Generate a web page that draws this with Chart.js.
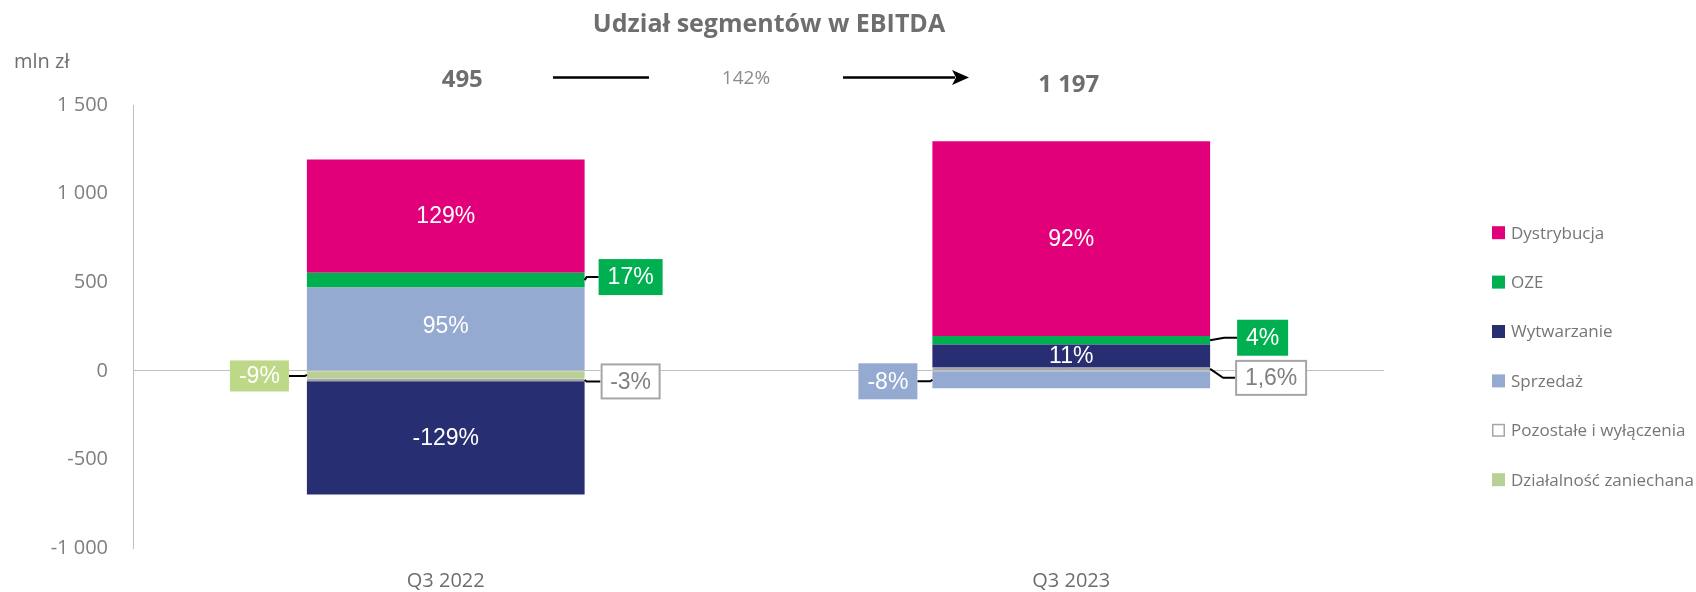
<!DOCTYPE html>
<html>
<head>
<meta charset="utf-8">
<script src="https://cdn.jsdelivr.net/npm/chart.js@4.4.1/dist/chart.umd.min.js"></script>
<style>
html,body{margin:0;padding:0;background:#ffffff;}
#wrap{width:1696px;height:592px;position:relative;}
</style>
</head>
<body>
<div id="wrap"><canvas id="c" width="1696" height="592"></canvas></div>
<script>
// ---------- DATA ----------
const categories = ['Q3 2022', 'Q3 2023'];
const dystrybucja = [639, 1100];
const oze = [84, 47];
const wytwarzanie = [-639, 130];
const sprzedaz = [470, -99];
const pozostale = [-15, 19];
const dzialalnosc = [-44, null];

const dystrybucjaPct = ['129%', '92%'];
const ozePct = ['17%', '4%'];
const wytwarzaniePct = ['-129%', '11%'];
const sprzedazPct = ['95%', '-8%'];
const pozostalePct = ['-3%', '1,6%'];
const dzialalnoscPct = ['-9%', ''];

const totals = ['495', '1 197'];
const growth = '142%';
const titleText = 'Udział segmentów w EBITDA';
const unitText = 'mln zł';
const yMin = -1000, yMax = 1500, yStep = 500;

// legend order (as in the reference)
const legendOrder = ['Dystrybucja', 'OZE', 'Wytwarzanie', 'Sprzedaż', 'Pozostałe i wyłączenia', 'Działalność zaniechana'];

// ---------- STYLE ----------
const GRAY_TXT = '#6E6E6E';
const colors = {
  'Dystrybucja': {fill: '#E2007A', border: '#E2007A', box: '#E2007A', text: '#FFFFFF'},
  'OZE': {fill: '#00B050', border: '#00B050', box: '#00B050', text: '#FFFFFF'},
  'Wytwarzanie': {fill: '#282E72', border: '#282E72', box: '#282E72', text: '#FFFFFF'},
  'Sprzedaż': {fill: '#95AAD0', border: '#95AAD0', box: '#95AAD0', text: '#FFFFFF'},
  'Pozostałe i wyłączenia': {fill: '#FFFFFF', border: '#A6A6A6', box: '#FFFFFF', text: '#808080', boxBorder: '#A6A6A6'},
  'Działalność zaniechana': {fill: '#B8D095', border: '#B8D095', box: '#BDD886', text: '#FFFFFF'}
};

// label placement per dataset / per category (style only)
const placement = {
  'Dystrybucja': [{mode: 'in'}, {mode: 'in'}],
  'OZE': [{mode: 'right', gap: 14, dy: -3, w: 64, h: 36, elbow: 2}, {mode: 'right', gap: 27, dy: -2.5, w: 51, h: 36, elbow: 14}],
  'Wytwarzanie': [{mode: 'in'}, {mode: 'in'}],
  'Sprzedaż': [{mode: 'in', dy: -3}, {mode: 'left', gap: 15, dy: 1.5, w: 59, h: 36, elbow: 2}],
  'Pozostałe i wyłączenia': [{mode: 'right', gap: 16, dy: 1.5, w: 60, h: 36, elbow: 2}, {mode: 'right', gap: 25, dy: 9, w: 72, h: 36, elbow: 13}],
  'Działalność zaniechana': [{mode: 'left', gap: 18, dy: 1, w: 59, h: 31, elbow: 2}, null]
};

function fmt(v) {
  const s = Math.abs(v).toString().replace(/\B(?=(\d{3})+(?!\d))/g, ' ');
  return (v < 0 ? '-' : '') + s;
}

function ds(label, data, pct) {
  const c = colors[label];
  const isPoz = label === 'Pozostałe i wyłączenia';
  return {
    label: label,
    data: data,
    pct: pct,
    backgroundColor: c.fill,
    borderColor: c.border,
    borderWidth: isPoz ? 1.5 : 0,
    borderSkipped: false,
    barPercentage: 0.444,
    categoryPercentage: 1.0,
    stack: 's'
  };
}

// stacking order (closest to zero first)
const datasets = [
  ds('Działalność zaniechana', dzialalnosc, dzialalnoscPct),
  ds('Pozostałe i wyłączenia', pozostale, pozostalePct),
  ds('Sprzedaż', sprzedaz, sprzedazPct),
  ds('Wytwarzanie', wytwarzanie, wytwarzaniePct),
  ds('OZE', oze, ozePct),
  ds('Dystrybucja', dystrybucja, dystrybucjaPct)
];

const LABEL_FONT = '23px "Liberation Sans", Arial, sans-serif';

const annotationsPlugin = {
  id: 'annot',
  afterDatasetsDraw(chart) {
    const ctx = chart.ctx;
    ctx.save();
    ctx.font = LABEL_FONT;
    ctx.textAlign = 'center';
    ctx.textBaseline = 'middle';
    chart.data.datasets.forEach((d, di) => {
      const meta = chart.getDatasetMeta(di);
      const c = colors[d.label];
      meta.data.forEach((el, i) => {
        const p = placement[d.label][i];
        const txt = d.pct[i];
        if (!p || !txt || d.data[i] === null) return;
        const props = el.getProps(['x', 'y', 'base', 'width'], true);
        const cy = (props.y + props.base) / 2;
        const left = props.x - props.width / 2;
        const right = props.x + props.width / 2;
        if (p.mode === 'in') {
          ctx.fillStyle = '#FFFFFF';
          ctx.fillText(txt, props.x, cy + (p.dy || 0) + 1);
          return;
        }
        const by = cy + p.dy;
        let bx0, edge, boxEdge;
        if (p.mode === 'right') {
          edge = right; boxEdge = right + p.gap; bx0 = boxEdge;
        } else {
          edge = left; boxEdge = left - p.gap; bx0 = boxEdge - p.w;
        }
        // leader line
        ctx.strokeStyle = '#000000';
        ctx.lineWidth = 2;
        ctx.beginPath();
        ctx.moveTo(edge, cy);
        const dir = p.mode === 'right' ? 1 : -1;
        ctx.lineTo(edge + dir * p.elbow, by);
        ctx.lineTo(boxEdge, by);
        ctx.stroke();
        // box
        ctx.fillStyle = c.box;
        ctx.fillRect(bx0, by - p.h / 2, p.w, p.h);
        if (c.boxBorder) {
          ctx.strokeStyle = c.boxBorder;
          ctx.lineWidth = 2;
          ctx.strokeRect(bx0 + 1, by - p.h / 2 + 1, p.w - 2, p.h - 2);
        }
        ctx.fillStyle = c.text;
        ctx.fillText(txt, bx0 + p.w / 2, by + 1);
      });
    });
    ctx.restore();
  },
  afterDraw(chart) {
    const ctx = chart.ctx;
    const xs = chart.scales.x;
    ctx.save();
    ctx.textBaseline = 'middle';
    // title
    ctx.fillStyle = GRAY_TXT;
    ctx.textAlign = 'center';
    ctx.font = 'bold 25px "Open Sans", sans-serif';
    ctx.fillText(titleText, 769, 25);
    // unit
    ctx.textAlign = 'left';
    ctx.font = '20px "Open Sans", sans-serif';
    ctx.fillText(unitText, 14, 62);
    // totals
    ctx.textAlign = 'center';
    ctx.font = 'bold 24px "Open Sans", sans-serif';
    const x0 = xs.getPixelForValue(0), x1 = xs.getPixelForValue(1);
    ctx.fillText(totals[0], x0 + 16.5, 80);
    ctx.fillText(totals[1], x1 - 2.5, 85);
    // connector line + growth + arrow
    ctx.strokeStyle = '#000000';
    ctx.lineWidth = 2.5;
    ctx.beginPath();
    ctx.moveTo(553, 77.5); ctx.lineTo(649, 77.5);
    ctx.stroke();
    ctx.font = '19px "Open Sans", sans-serif';
    ctx.fillStyle = '#8C8C8C';
    ctx.fillText(growth, 746, 79);
    ctx.beginPath();
    ctx.moveTo(843, 77.5); ctx.lineTo(955, 77.5);
    ctx.stroke();
    ctx.fillStyle = '#000000';
    ctx.beginPath();
    ctx.moveTo(969, 77.5);
    ctx.lineTo(952, 70);
    ctx.lineTo(956, 77.5);
    ctx.lineTo(952, 85);
    ctx.closePath();
    ctx.fill();
    // legend
    ctx.font = '17px "Open Sans", sans-serif';
    ctx.textAlign = 'left';
    legendOrder.forEach((name, i) => {
      const c = colors[name];
      const cy = 232.7 + 49.4 * i;
      if (name === 'Pozostałe i wyłączenia') {
        ctx.fillStyle = '#FFFFFF';
        ctx.fillRect(1492, cy - 6.5, 13, 13);
        ctx.strokeStyle = '#A6A6A6';
        ctx.lineWidth = 1.5;
        ctx.strokeRect(1492.75, cy - 5.75, 11.5, 11.5);
      } else {
        ctx.fillStyle = c.fill;
        ctx.fillRect(1492, cy - 6.5, 13, 13);
      }
      ctx.fillStyle = '#767676';
      ctx.fillText(name, 1511, cy + 1);
    });
    ctx.restore();
  }
};

new Chart(document.getElementById('c'), {
  type: 'bar',
  data: {labels: categories, datasets: datasets},
  options: {
    responsive: false,
    animation: false,
    devicePixelRatio: 1,
    layout: {padding: {top: 105, right: 312, bottom: 0, left: 0}},
    plugins: {
      legend: {display: false},
      title: {display: false},
      tooltip: {enabled: false}
    },
    scales: {
      x: {
        stacked: true,
        grid: {display: false, drawTicks: false},
        border: {display: false},
        ticks: {padding: 21, color: '#6E6E6E', font: {family: '"Open Sans", sans-serif', size: 20}},
        afterFit(s) { s.height = 44; }
      },
      y: {
        stacked: true,
        min: yMin, max: yMax,
        ticks: {
          stepSize: yStep, padding: 25, color: '#7F7F7F',
          font: {family: '"Open Sans", sans-serif', size: 20},
          callback: (v) => fmt(v)
        },
        grid: {
          drawTicks: false,
          color: (c) => (c.tick && c.tick.value === 0) ? '#BFBFBF' : 'rgba(0,0,0,0)',
          lineWidth: 1
        },
        border: {display: true, color: '#BFBFBF', width: 1},
        afterFit(s) { s.width = 133; }
      }
    }
  },
  plugins: [annotationsPlugin]
});
</script>
</body>
</html>
